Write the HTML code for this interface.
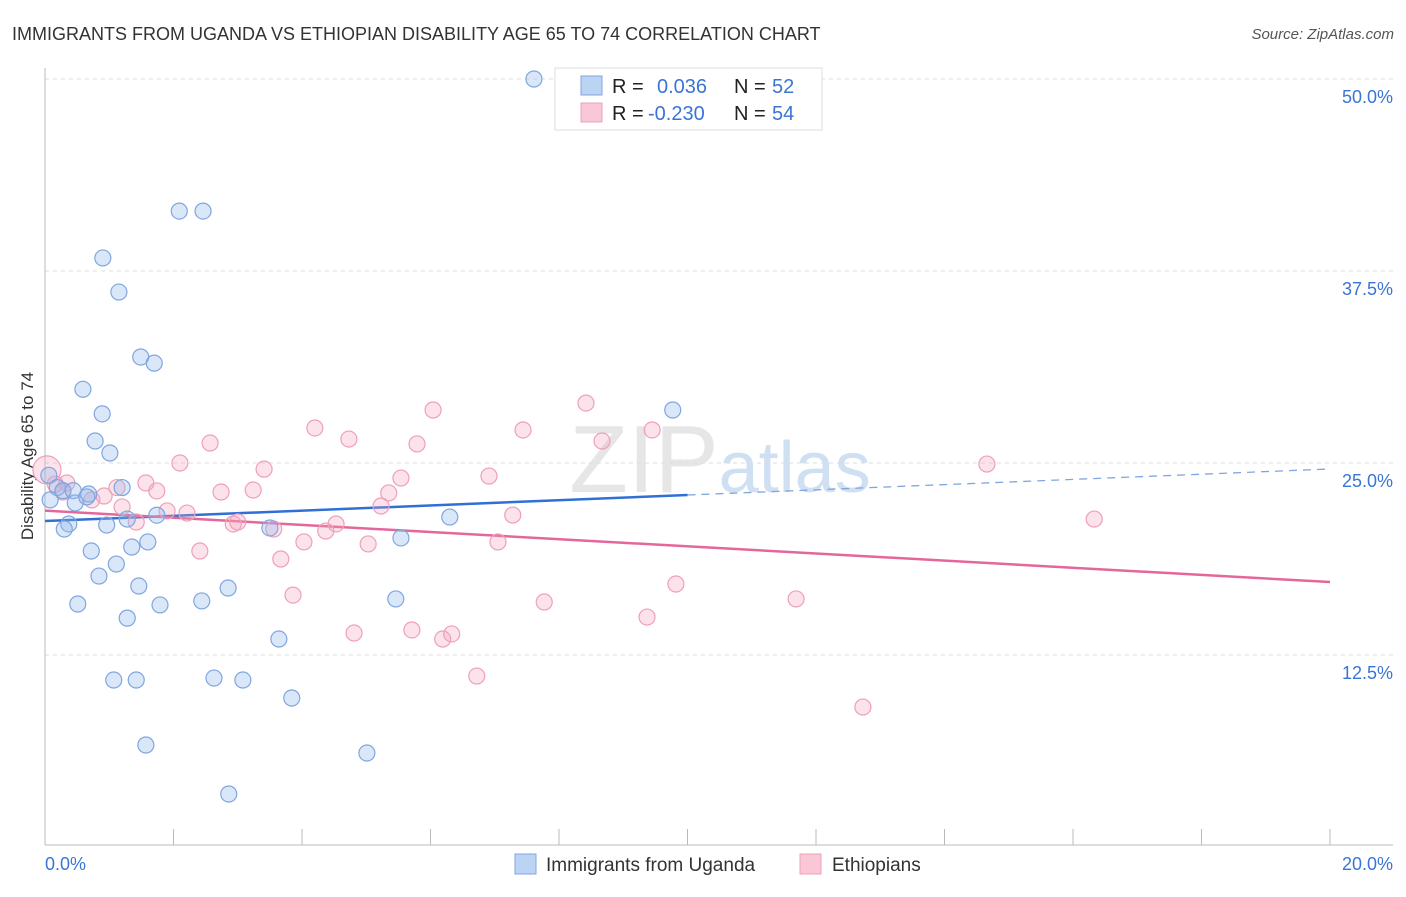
<!DOCTYPE html>
<html><head><meta charset="utf-8"><style>
body{margin:0;background:#fff;font-family:"Liberation Sans",sans-serif;}
svg text{font-family:"Liberation Sans",sans-serif;}
</style></head><body>
<svg id="chart" width="1406" height="892" xmlns="http://www.w3.org/2000/svg">
<text x="12" y="40" font-size="18" fill="#333">IMMIGRANTS FROM UGANDA VS ETHIOPIAN DISABILITY AGE 65 TO 74 CORRELATION CHART</text>
<text x="1394" y="39" font-size="15" fill="#555" font-style="italic" text-anchor="end">Source: ZipAtlas.com</text>
<text x="720" y="492" font-size="96" fill="#e6e6e6" text-anchor="middle" font-family="Liberation Serif"><tspan>ZIP</tspan><tspan fill="#cfe0f3" font-family="Liberation Sans" font-size="72">atlas</tspan></text>
<text transform="translate(33,456) rotate(-90)" font-size="17" fill="#333" text-anchor="middle">Disability Age 65 to 74</text>
<g id="grid"></g><g id="axes"></g><g id="lines"></g><g id="pts"></g>
<g>
<rect x="555" y="68" width="267" height="62" fill="#fff" stroke="#ddd"/>
<rect x="581" y="76" width="21" height="19" fill="#bcd4f4" stroke="#7fa6e0"/>
<rect x="581" y="103" width="21" height="19" fill="#f9c7d6" stroke="#eea0b8"/>
<text x="612" y="93" font-size="20" fill="#222">R = </text><text x="657" y="93" font-size="20" fill="#3a75d6">0.036</text>
<text x="734" y="93" font-size="20" fill="#222">N = </text><text x="772" y="93" font-size="20" fill="#3a75d6">52</text>
<text x="612" y="120" font-size="20" fill="#222">R = </text><text x="648" y="120" font-size="20" fill="#3a75d6">-0.230</text>
<text x="734" y="120" font-size="20" fill="#222">N = </text><text x="772" y="120" font-size="20" fill="#3a75d6">54</text>
</g>
<g>
<rect x="515" y="854" width="21" height="20" fill="#bcd4f4" stroke="#7fa6e0"/>
<text x="546" y="871" font-size="19" fill="#333">Immigrants from Uganda</text>
<rect x="800" y="854" width="21" height="20" fill="#f9c7d6" stroke="#eea0b8"/>
<text x="832" y="871" font-size="19" fill="#333">Ethiopians</text>
</g>
</svg>
<script>
const xTicks=[0,2,4,6,8,10,12,14,16,18,20];
const yTicks=[12.5,25,37.5,50];
const yTickLabels=["12.5%","25.0%","37.5%","50.0%"];
const blueX=[7.61,2.09,2.46,0.90,1.15,1.49,1.70,0.59,0.89,9.77,0.78,1.01,0.06,0.19,0.28,0.44,0.68,1.20,0.08,0.47,0.65,1.74,1.28,0.37,0.30,0.96,3.50,6.30,5.54,1.60,1.35,0.72,1.11,0.84,1.46,2.85,0.51,1.79,2.44,5.46,1.28,3.64,1.07,1.42,2.63,3.08,3.84,1.57,5.01,2.86];
const blueY=[50.0,41.4,41.4,38.35,36.13,31.9,31.5,29.8,28.2,28.45,26.43,25.65,24.2,23.4,23.2,23.2,22.98,23.4,22.6,22.4,22.79,21.6,21.35,21.03,20.7,20.96,20.77,21.48,20.12,19.86,19.53,19.27,18.42,17.64,16.99,16.86,15.82,15.76,16.02,16.15,14.9,13.54,10.87,10.87,11.0,10.87,9.7,6.64,6.12,3.45];
const pinkX=[0.03,0.16,0.34,0.28,0.73,0.92,1.12,1.57,1.74,1.20,1.42,1.90,2.21,2.10,2.57,2.41,2.74,2.93,3.00,3.24,3.41,3.56,3.67,3.86,4.03,4.20,4.37,4.53,4.73,4.81,5.03,5.23,5.35,5.54,5.71,5.79,6.04,6.19,6.33,6.72,6.91,7.05,7.28,7.44,7.77,8.42,8.67,9.37,9.45,9.82,11.69,12.73,14.66,16.33];
const pinkY=[24.55,23.63,23.7,23.11,22.6,22.85,23.4,23.7,23.18,22.14,21.16,21.88,21.74,25.0,26.3,19.27,23.11,21.03,21.16,23.24,24.6,20.7,18.75,16.4,19.86,27.28,20.57,21.03,26.56,13.93,19.73,22.2,23.05,24.02,14.13,26.24,28.45,13.54,13.87,11.13,24.15,19.86,21.61,27.15,15.95,28.9,26.43,14.97,27.15,17.12,16.15,9.11,24.93,21.35];
const blueTrend=[21.22,24.61];
const pinkTrend=[21.9,17.25];
const NS="http://www.w3.org/2000/svg";
const X=v=>45+v*64.25, Y=v=>79+(50-v)*15.36;
function mk(tag,attrs,parent){const e=document.createElementNS(NS,tag);for(const k in attrs)e.setAttribute(k,attrs[k]);parent.appendChild(e);return e;}
const grid=document.getElementById('grid'),axes=document.getElementById('axes'),lines=document.getElementById('lines'),pts=document.getElementById('pts');
yTicks.forEach((t,i)=>{
 const l=mk('line',{x1:45,x2:1393,y1:Y(t),y2:Y(t),stroke:'#ddd','stroke-dasharray':'4,4'},grid);
 
 
 const tx=mk('text',{x:1393,y:Y(t)+24,'font-size':18,fill:'#3a75d6','text-anchor':'end'},grid);
 tx.textContent=yTickLabels[i];
 
 
});
const ax=mk('line',{x1:45,x2:45,y1:68,y2:845,stroke:'#bbb'},axes);


const bx=mk('line',{x1:45,x2:1393,y1:845,y2:845,stroke:'#bbb'},axes);


xTicks.forEach(t=>{
 const l=mk('line',{x1:X(t),x2:X(t),y1:829,y2:845,stroke:'#bbb'},axes);
 
 
});
const xl0=mk('text',{x:45,y:870,'font-size':18,fill:'#3a75d6'},axes);xl0.textContent='0.0%';


const xl1=mk('text',{x:1393,y:870,'font-size':18,fill:'#3a75d6','text-anchor':'end'},axes);xl1.textContent='20.0%';


function dot(x,y,fill,stroke,name,r){const c=mk('circle',{cx:X(x),cy:Y(y),r:r||8,fill:fill,stroke:stroke,'stroke-width':1.2},pts);
 
 }
pinkX.forEach((x,i)=>dot(x,pinkY[i],'rgba(244,160,188,0.3)','#eea0b8','ethiopians-point',i===0?14:8));
blueX.forEach((x,i)=>dot(x,blueY[i],'rgba(150,186,236,0.35)','#7fa6e0','uganda-point'));
const bm=blueTrend[0]+(blueTrend[1]-blueTrend[0])*10/20;
const b1=mk('line',{x1:X(0),y1:Y(blueTrend[0]),x2:X(10),y2:Y(bm),stroke:'#2f6fd6','stroke-width':2.5},lines);


const b2=mk('line',{x1:X(10),y1:Y(bm),x2:X(20),y2:Y(blueTrend[1]),stroke:'#7fa6e0','stroke-width':1.3,'stroke-dasharray':'8,6'},lines);


const p1=mk('line',{x1:X(0),y1:Y(pinkTrend[0]),x2:X(20),y2:Y(pinkTrend[1]),stroke:'#e4679a','stroke-width':2.5},lines);


</script>
</body></html>
